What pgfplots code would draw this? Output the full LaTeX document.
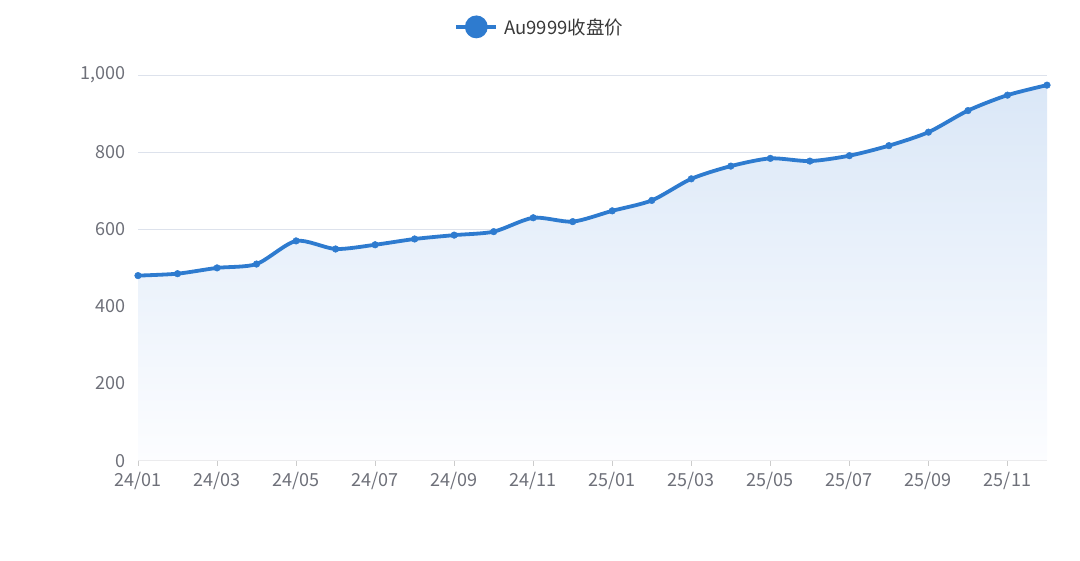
\documentclass[border=0pt]{standalone}
\usepackage{pgfplots}
\pgfplotsset{compat=1.18}
\usepackage{fontspec}
\setmainfont{Noto Sans CJK SC}
\definecolor{lineblue}{RGB}{46,123,207}
\definecolor{ticktxt}{RGB}{110,112,121}
\definecolor{gridc}{RGB}{221,226,236}
\definecolor{axisc}{RGB}{204,204,204}
\definecolor{filltop}{RGB}{218,231,247}
\definecolor{fillbot}{RGB}{252,253,255}
\begin{document}
\begin{tikzpicture}
\path[use as bounding box] (0bp,0bp) rectangle (1080bp,561bp);
\begin{axis}[
  at={(138bp,100.3bp)}, anchor=south west,
  scale only axis, width=909bp, height=385.6bp,
  xmin=0, xmax=23, ymin=0, ymax=1000,
  xtick={0,2,...,22},
  xticklabels={24/01,24/03,24/05,24/07,24/09,24/11,25/01,25/03,25/05,25/07,25/09,25/11},
  ytick={0,200,...,1000},
  /pgf/number format/1000 sep={,},
  /pgf/number format/assume math mode=true,
  ticklabel style={font=\fontsize{18bp}{20bp}\selectfont, text=ticktxt},
  yticklabel style={xshift=-4bp},
  xticklabel style={yshift=-3bp},
  ymajorgrids, grid style={gridc, line width=0.9bp},
  axis x line*=bottom, axis y line*=left,
  y axis line style={draw=none},
  ytick style={draw=none},
  x axis line style={axisc, line width=1bp, -},
  xtick style={axisc, line width=1bp},
  major tick length=5bp,
  tick align=outside,
  xtick pos=bottom,
  clip=false,
  legend style={at={(axis description cs:0.442,1.125)}, anchor=center, draw=none, fill=none,
    font=\fontsize{18.5bp}{20bp}\selectfont, text=black!78, inner sep=0pt},
  legend cell align=left,
]
\addplot[draw=none, top color=filltop, bottom color=fillbot, smooth, tension=0.45, forget plot]
 coordinates {
 (0,480) (1,485) (2,500) (3,510) (4,570) (5,549) (6,560) (7,575) (8,585) (9,594)
 (10,630) (11,620) (12,648) (13,675) (14,731) (15,764) (16,784) (17,777) (18,791)
 (19,817) (20,852) (21,908) (22,948) (23,974)
 } \closedcycle;
\addplot[lineblue, line width=3.8bp, smooth, tension=0.45,
  mark=*, mark size=3.3bp, mark options={solid, fill=lineblue, draw=lineblue, line width=0.5bp},
  legend image code/.code={
    \draw[lineblue, line width=3.8bp] (-2bp,0bp) -- (38bp,0bp);
    \fill[lineblue] (18bp,0bp) circle (9.5bp);
  }]
 coordinates {
 (0,480) (1,485) (2,500) (3,510) (4,570) (5,549) (6,560) (7,575) (8,585) (9,594)
 (10,630) (11,620) (12,648) (13,675) (14,731) (15,764) (16,784) (17,777) (18,791)
 (19,817) (20,852) (21,908) (22,948) (23,974)
 };
\addlegendentry{\hspace{4bp}Au9999收盘价}
\end{axis}
\end{tikzpicture}
\end{document}
